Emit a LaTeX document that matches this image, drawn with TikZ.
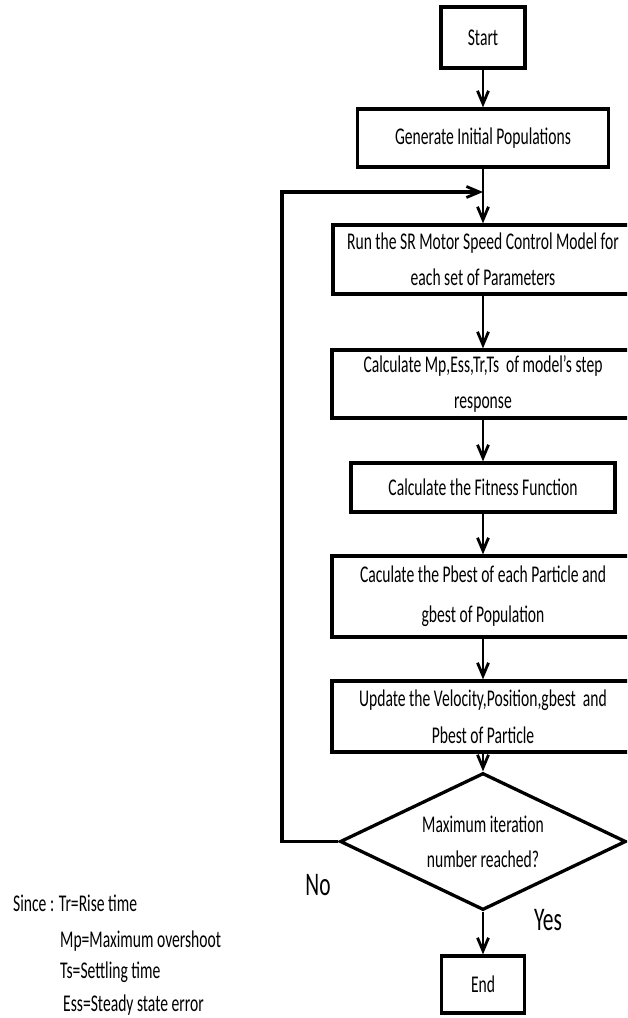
\documentclass[tikz,border=0pt]{standalone}
\usepackage{fontspec}
\setmainfont{Carlito}[FakeStretch=0.65]
\usetikzlibrary{arrows.meta,shapes.geometric}
\begin{document}
\begin{tikzpicture}[x=1pt,y=-1pt,
  box/.style={draw,line width=3.3pt,rectangle,inner sep=0pt,align=center,font=\fontsize{24}{36}\selectfont},
  dia/.style={draw,line width=3.3pt,diamond,aspect=2.09,inner sep=0pt,minimum width=286pt,minimum height=137pt,align=center,font=\fontsize{24}{35}\selectfont},
  arr/.style={line width=2.8pt,-{Straight Barb[length=13pt,width=11pt,line width=2.8pt]}},
  lbl/.style={inner sep=0pt,font=\fontsize{33}{36}\selectfont},
  leg/.style={inner sep=0pt,anchor=base west,font=\fontsize{24}{30}\selectfont}]
\useasboundingbox (0,0) rectangle (627,1018);
\fill[white] (0,0) rectangle (627,1018);
\clip (0,0) rectangle (627,1018);

\node[box,minimum width=84pt,minimum height=61pt] (start) at (483,37.5) {Start};
\node[box,minimum width=251pt,minimum height=58pt] (gen) at (483,138) {Generate Initial Populations};
\node[box,minimum width=300pt,minimum height=69pt] (run) at (483,259.5) {Run the SR Motor Speed Control Model for\\each set of Parameters};
\node[box,minimum width=302pt,minimum height=68pt] (calc) at (483,384) {Calculate Mp,Ess,Tr,Ts\ \ of model’s step\\response};
\node[box,minimum width=264pt,minimum height=49pt] (fit) at (483,487.5) {Calculate the Fitness Function};
\node[box,minimum width=302pt,minimum height=81pt,font=\fontsize{24}{40}\selectfont] (pb) at (483,596.5) {Caculate the Pbest of each Particle and\\gbest of Population};
\node[box,minimum width=302pt,minimum height=71pt,font=\fontsize{24}{37}\selectfont] (upd) at (483,716.5) {Update the Velocity,Position,gbest\ \ and\\Pbest of Particle};
\node[dia] (dec) at (483,841.5) {Maximum iteration\\number reached?};
\node[box,minimum width=83pt,minimum height=57pt] (end) at (483,984.5) {End};

\node[lbl] (no) at (318,885) {No};
\node[lbl] (yes) at (548,920) {Yes};

\coordinate (j) at (483,192);
\coordinate (lc) at (282,192);

\draw[arr] (start.south) -- (gen.north);
\draw[arr] (gen.south) -- (run.north);
\draw[arr] (run.south) -- (calc.north);
\draw[arr] (calc.south) -- (fit.north);
\draw[arr] (fit.south) -- (pb.north);
\draw[arr] (pb.south) -- (upd.north);
\draw[arr] (upd.south) -- (dec.north);
\draw[arr] (dec.south) -- (end.north);
\draw[arr,line width=3.3pt,line join=miter] (dec.west) -| (lc) -- (j);

\node[leg] (l1) at (13,911) {Since : Tr=Rise time};
\node[leg] (l2) at (60,947) {Mp=Maximum overshoot};
\node[leg] (l3) at (60,978) {Ts=Settling time};
\node[leg] (l4) at (63,1011) {Ess=Steady state error};
\end{tikzpicture}
\end{document}
